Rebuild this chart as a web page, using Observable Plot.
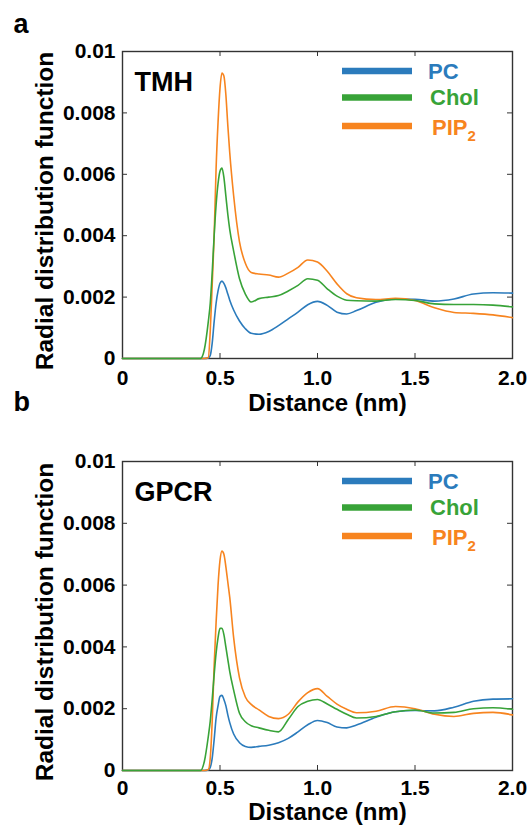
<!DOCTYPE html>
<html><head><meta charset="utf-8">
<script src="https://cdn.jsdelivr.net/npm/d3@7"></script>
<script src="https://cdn.jsdelivr.net/npm/@observablehq/plot@0.6"></script>
<style>
body{margin:0;background:#fff;}
#chart svg{display:block;overflow:visible;}
</style>
</head><body><div id="chart"></div>
<script>
// ---- data ----
const distance = [0, 0.40, 0.42, 0.44, 0.45, 0.46, 0.47, 0.48, 0.49, 0.50, 0.51, 0.52, 0.53, 0.54, 0.55, 0.57, 0.60, 0.63, 0.66, 0.70, 0.75, 0.80, 0.85, 0.90, 0.95, 1.00, 1.05, 1.10, 1.15, 1.20, 1.30, 1.40, 1.50, 1.60, 1.70, 1.80, 1.90, 2.00];

const tmhPC   = [0, 0, 0, 0.00002, 0.0001, 0.0005, 0.0012, 0.0018, 0.0022, 0.00245, 0.00252, 0.00245, 0.0023, 0.0021, 0.0019, 0.00158, 0.00122, 0.00097, 0.00082, 0.00079, 0.00088, 0.00107, 0.00129, 0.00151, 0.00175, 0.00186, 0.00173, 0.00151, 0.00145, 0.00156, 0.00183, 0.00194, 0.00193, 0.00187, 0.00194, 0.0021, 0.00214, 0.00213];
const tmhChol = [0, 0, 0.0003, 0.0012, 0.0018, 0.0028, 0.0040, 0.0050, 0.0057, 0.0061, 0.0062, 0.0059, 0.0053, 0.0047, 0.0042, 0.0035, 0.0026, 0.0021, 0.00184, 0.00195, 0.0020, 0.00205, 0.0022, 0.00238, 0.0026, 0.00255, 0.00227, 0.00203, 0.0019, 0.00188, 0.00187, 0.00192, 0.00189, 0.00178, 0.00176, 0.00176, 0.00174, 0.00168];
const tmhPIP2 = [0, 0, 0, 0.00003, 0.0009, 0.0024, 0.0040, 0.0062, 0.0077, 0.0088, 0.0093, 0.0092, 0.0086, 0.0076, 0.0067, 0.0053, 0.0038, 0.0031, 0.0028, 0.00275, 0.00272, 0.00265, 0.00278, 0.00297, 0.00321, 0.00314, 0.00284, 0.00243, 0.00211, 0.00198, 0.00192, 0.00196, 0.00189, 0.00165, 0.0015, 0.00147, 0.00142, 0.00133];

const gpcrPC   = [0, 0, 0, 0.00002, 0.0001, 0.0004, 0.0010, 0.0017, 0.0021, 0.0024, 0.00243, 0.0023, 0.0021, 0.0018, 0.00155, 0.00118, 0.0009, 0.00078, 0.00075, 0.00078, 0.00082, 0.0009, 0.00104, 0.00125, 0.00148, 0.00162, 0.00155, 0.00141, 0.00138, 0.00147, 0.00172, 0.0019, 0.00194, 0.00193, 0.00205, 0.00224, 0.00231, 0.00232];
const gpcrChol = [0, 0, 0.0003, 0.0011, 0.0016, 0.0023, 0.0031, 0.0038, 0.0043, 0.0046, 0.0046, 0.0044, 0.0040, 0.0036, 0.0032, 0.0026, 0.00185, 0.00158, 0.00145, 0.00138, 0.0013, 0.00125, 0.00165, 0.00207, 0.00224, 0.0023, 0.00215, 0.00198, 0.00182, 0.0017, 0.00175, 0.0019, 0.00196, 0.00186, 0.00188, 0.002, 0.00203, 0.00198];
const gpcrPIP2 = [0, 0, 0, 0.00003, 0.0004, 0.0016, 0.0034, 0.0048, 0.0060, 0.0068, 0.0071, 0.0070, 0.0066, 0.0061, 0.0056, 0.0043, 0.0030, 0.00238, 0.00214, 0.00196, 0.00175, 0.00168, 0.00182, 0.00222, 0.00252, 0.00265, 0.0024, 0.00215, 0.00198, 0.00187, 0.00192, 0.00207, 0.002, 0.00182, 0.00175, 0.00185, 0.00188, 0.0018];

const seriesNames  = ["PC", "Chol", "PIP2"];
const seriesColors = ["#2b7bbc", "#38a338", "#f7841f"];
const drawOrder    = ["PC", "PIP2", "Chol"];
const xTicks = [0, 0.5, 1.0, 1.5, 2.0];
const yTicks = [0, 0.002, 0.004, 0.006, 0.008, 0.01];
const xLabel = "Distance (nm)";
const yLabel = "Radial distribution function";

const panels = [
  {letter: "a", title: "TMH",  values: [tmhPC, tmhChol, tmhPIP2],   height: 412, marginTop: 51, marginBottom: 54, letterDy: -19, xLabelDy: 52, xTickPad: 12},
  {letter: "b", title: "GPCR", values: [gpcrPC, gpcrChol, gpcrPIP2], height: 413, marginTop: 49, marginBottom: 55, letterDy: -51, xLabelDy: 49, xTickPad: 10}
];

const W = 529, ML = 122, MR = 17, TICK = 5;
const fmtY = d => d === 0 ? "0" : d === 0.01 ? "0.01" : d.toFixed(3);
const fmtX = d => d === 0 ? "0" : d.toFixed(1);
const FONT = "'Liberation Sans', Arial, Helvetica, sans-serif";

function makePanel(p) {
  const data = [];
  drawOrder.forEach(s => {
    const i = seriesNames.indexOf(s);
    distance.forEach((d, j) => data.push({series: s, distance: d, value: p.values[i][j]}));
  });
  const innerH = p.height - p.marginTop - p.marginBottom;
  const innerW = W - ML - MR;
  const svg = Plot.plot({
    width: W, height: p.height,
    marginLeft: ML, marginRight: MR, marginTop: p.marginTop, marginBottom: p.marginBottom,
    style: {fontFamily: FONT, fontWeight: "bold", color: "#000", background: "transparent", overflow: "visible"},
    x: {domain: [0, 2]},
    y: {domain: [0, 0.01]},
    color: {domain: seriesNames, range: seriesColors},
    marks: [
      Plot.frame({stroke: "#333", strokeWidth: 1.4}),
      Plot.tickX(xTicks.slice(1, -1), {x: d => d, insetTop: innerH - TICK, stroke: "#333"}),
      Plot.tickX(xTicks.slice(1, -1), {x: d => d, insetBottom: innerH - TICK, stroke: "#333"}),
      Plot.tickY(yTicks.slice(1, -1), {y: d => d, insetRight: innerW - TICK, stroke: "#333"}),
      Plot.tickY(yTicks.slice(1, -1), {y: d => d, insetLeft: innerW - TICK, stroke: "#333"}),
      Plot.line(data, {x: "distance", y: "value", z: "series", stroke: "series", strokeWidth: 1.6, curve: "monotone-x"}),
      Plot.axisX(xTicks, {tickSize: 0, tickPadding: p.xTickPad, tickFormat: fmtX, fontSize: 21, label: null}),
      Plot.axisY(yTicks, {tickSize: 0, tickPadding: 7, tickFormat: fmtY, fontSize: 21, label: null}),
      Plot.text([xLabel], {text: d => d, frameAnchor: "bottom", dx: 10, dy: p.xLabelDy, textAnchor: "middle", lineAnchor: "bottom", fontSize: 24, fontWeight: "bold"}),
      Plot.text([yLabel], {text: d => d, frameAnchor: "left", rotate: -90, dx: -77, dy: 6, textAnchor: "middle", lineAnchor: "middle", fontSize: 24.5, fontWeight: "bold"}),
      Plot.text([p.title], {text: d => d, frameAnchor: "top-left", dx: 12, dy: 39, textAnchor: "start", lineAnchor: "bottom", fontSize: 27, fontWeight: "bold"}),
      Plot.text([p.letter], {text: d => d, frameAnchor: "top-left", dx: -109, dy: p.letterDy, textAnchor: "start", lineAnchor: "bottom", fontSize: 27, fontWeight: "bold"})
    ]
  });
  // legend (inside the frame, top-right)
  const mt = p.marginTop;
  const barY = [mt + 20, mt + 46.5, mt + 75];
  const txtY = [mt + 27.5, mt + 54, mt + 84];
  const txtX = [428, 430, 432];
  const g = d3.select(svg).append("g").attr("class", "legend")
    .attr("font-family", FONT).attr("font-weight", "bold").attr("font-size", 22).attr("text-anchor", "start");
  seriesNames.forEach((s, i) => {
    g.append("line").attr("x1", 342).attr("x2", 412).attr("y1", barY[i]).attr("y2", barY[i])
      .attr("stroke", seriesColors[i]).attr("stroke-width", 6.5).attr("stroke-linecap", "butt");
    const t = g.append("text").attr("x", txtX[i]).attr("y", txtY[i]).attr("fill", seriesColors[i]).attr("text-anchor", "start");
    if (s === "PIP2") {
      t.append("tspan").text("PIP");
      t.append("tspan").attr("font-size", 15).attr("dy", 6).text("2");
    } else {
      t.text(s);
    }
  });
  return svg;
}

const root = document.getElementById("chart");
panels.forEach(p => root.appendChild(makePanel(p)));
</script>
</body></html>
